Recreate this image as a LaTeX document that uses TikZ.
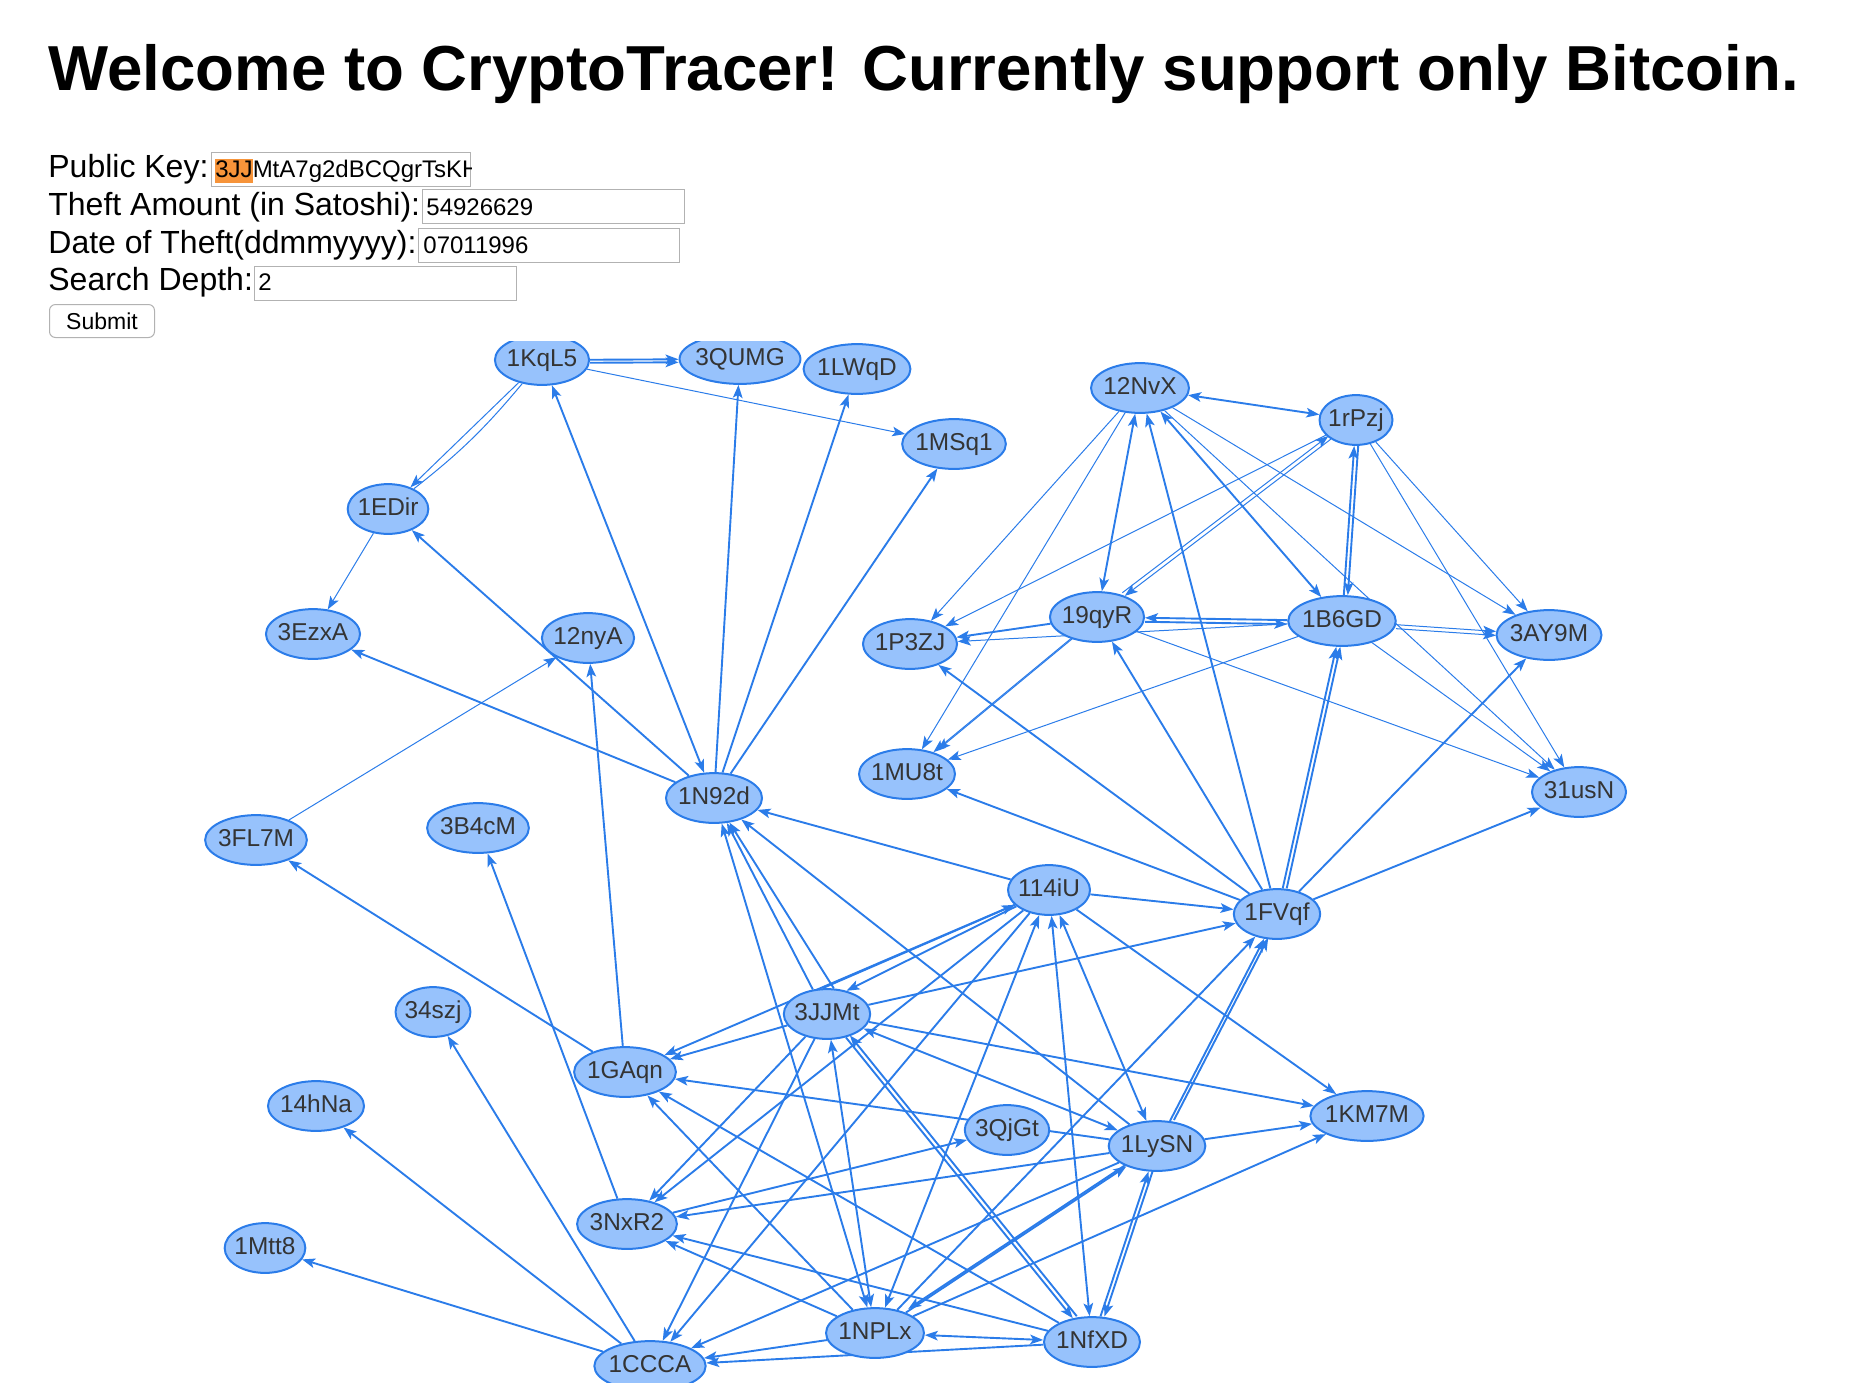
\documentclass[tikz,border=0pt]{standalone}
\usepackage{fontspec}
\setmainfont{Liberation Sans}
\usetikzlibrary{shapes, arrows.meta, positioning, backgrounds}
\definecolor{visblue}{RGB}{43,124,233}
\definecolor{visfill}{RGB}{151,194,252}
\definecolor{vistext}{RGB}{52,52,52}
\definecolor{boxgray}{RGB}{178,178,178}
\definecolor{selorange}{RGB}{247,148,58}
\newcommand{\selbox}[1]{{\setlength{\fboxsep}{0pt}\colorbox{selorange}{\rule[-3pt]{0pt}{12pt}#1}}}

\begin{document}
\begin{tikzpicture}[x=0.5pt,y=-0.5pt,
		>={Stealth[length=6.5pt,width=4.8pt,inset=1.5pt]},
		addr/.style={ellipse,draw=visblue,fill=visfill,line width=1pt,text=vistext,font=\fontsize{12.2}{14}\selectfont,inner xsep=-1pt,inner ysep=3.1pt,text height=8.8pt,text depth=2.6pt},
		tx/.style={draw=visblue,line width=0.95pt,->},
		txthin/.style={tx,line width=0.5pt},
		twin/.style={transform canvas={shift={(#1)}}},
		lbl/.style={anchor=base west,inner sep=0pt,font=\fontsize{16}{19}\selectfont},
		field/.style={draw=boxgray,line width=0.5pt,anchor=north west,inner sep=0pt,minimum height=17pt},
		val/.style={anchor=base west,inner sep=0pt,font=\fontsize{12}{14}\selectfont}
		]
		\useasboundingbox (0,0) rectangle (1872,1382);
		% form
		\node (title) [anchor=base west,inner sep=0pt,font=\fontsize{31.8}{38}\selectfont\bfseries] at (48,90) {Welcome to CryptoTracer! Currently support only Bitcoin.};
		\node (pklbl) [lbl] at (48,177) {Public Key:};
		\node (amtlbl) [lbl] at (48,215) {Theft Amount (in Satoshi):};
		\node (datelbl) [lbl] at (48,253) {Date of Theft(ddmmyyyy):};
		\node (depthlbl) [lbl] at (48,290) {Search Depth:};
		\node (pkbox) [field,minimum width=129.5pt] at (211,152) {};
		\node (amtbox) [field,minimum width=131pt] at (422,189) {};
		\node (datebox) [field,minimum width=130.5pt] at (418,228) {};
		\node (depthbox) [field,minimum width=131pt] at (254,266) {};
		\begin{scope}
			\clip (pkbox.north west) rectangle (pkbox.south east);
			\node (pkval) [val] at (215,177) {\selbox{3JJ}MtA7g2dBCQgrTsKH};
		\end{scope}
		\node (amtval) [val] at (426,215) {54926629};
		\node (dateval) [val] at (423,253) {07011996};
		\node (depthval) [val] at (258,290) {2};
		\node (submit) [draw=boxgray,line width=0.5pt,rounded corners=3pt,anchor=north west,minimum width=52.5pt,minimum height=16.5pt,inner sep=0pt,font=\fontsize{11.5}{13}\selectfont] at (49,304) {Submit};

		% graph
		\begin{scope}
			\clip (0,341) rectangle (1872,1382);
			\node (kql5) [addr] at (542,360) {1KqL5};
			\node (qumg) [addr] at (740,359) {3QUMG};
			\node (lwqd) [addr] at (857,369) {1LWqD};
			\node (msq1) [addr] at (954,444) {1MSq1};
			\node (edir) [addr] at (388,509) {1EDir};
			\node (ezxa) [addr] at (313,634) {3EzxA};
			\node (nya) [addr] at (588,638) {12nyA};
			\node (n92d) [addr] at (714,798) {1N92d};
			\node (fl7m) [addr] at (256,840) {3FL7M};
			\node (b4cm) [addr] at (478,828) {3B4cM};
			\node (nvx) [addr] at (1140,388) {12NvX};
			\node (rpzj) [addr] at (1356,420) {1rPzj};
			\node (qyr) [addr] at (1097,617) {19qyR};
			\node (b6gd) [addr] at (1342,621) {1B6GD};
			\node (p3zj) [addr] at (910,644) {1P3ZJ};
			\node (ay9m) [addr] at (1549,635) {3AY9M};
			\node (mu8t) [addr] at (907,774) {1MU8t};
			\node (usn) [addr] at (1579,792) {31usN};
			\node (iu) [addr] at (1049,890) {114iU};
			\node (fvqf) [addr] at (1277,914) {1FVqf};
			\node (jjmt) [addr] at (827,1014) {3JJMt};
			\node (szj) [addr] at (433,1012) {34szj};
			\node (gaqn) [addr] at (625,1072) {1GAqn};
			\node (hna) [addr] at (316,1106) {14hNa};
			\node (qjgt) [addr] at (1007,1130) {3QjGt};
			\node (lysn) [addr] at (1157,1146) {1LySN};
			\node (km7m) [addr] at (1367,1116) {1KM7M};
			\node (nxr2) [addr] at (627,1224) {3NxR2};
			\node (mtt8) [addr] at (265,1248) {1Mtt8};
			\node (nplx) [addr] at (875,1333) {1NPLx};
			\node (nfxd) [addr] at (1092,1342) {1NfXD};
			\node (ccca) [addr] at (650,1366) {1CCCA};
		\end{scope}

		\begin{scope}[on background layer]
			% upper left
			\draw [tx] (kql5) -- (qumg);
			\draw [tx,twin={0pt,-1.5pt}] (kql5) -- (qumg);
			\draw [txthin] (kql5) -- (msq1);
			\draw [txthin] (kql5) -- (edir);
			\draw [txthin,-] (edir) to[bend right=6] (kql5);
			\draw [txthin] (edir) -- (ezxa);
			\draw [tx,<->] (n92d) -- (kql5);
			\draw [tx] (n92d) -- (qumg);
			\draw [tx] (n92d) -- (lwqd);
			\draw [tx] (n92d) -- (msq1);
			\draw [tx] (n92d) -- (edir);
			\draw [tx] (n92d) -- (ezxa);
			\draw [txthin] (fl7m) -- (nya);
			\draw [tx] (gaqn) -- (nya);
			\draw [tx] (gaqn) -- (fl7m);
			\draw [tx] (nxr2) -- (b4cm);
			\draw [tx] (ccca) -- (szj);
			\draw [tx] (ccca) -- (hna);
			\draw [tx] (ccca) -- (mtt8);
			% upper right
			\draw [tx,<->] (nvx) -- (rpzj);
			\draw [txthin] (nvx) -- (p3zj);
			\draw [txthin] (nvx) -- (mu8t);
			\draw [tx,<->] (nvx) -- (qyr);
			\draw [tx,<->] (nvx) -- (b6gd);
			\draw [txthin] (nvx) -- (ay9m);
			\draw [txthin] (nvx) -- (usn);
			\draw [txthin] (rpzj) -- (p3zj);
			\draw [txthin] (rpzj) -- (qyr);
			\draw [txthin,twin={-1.2pt,1.6pt}] (qyr) -- (rpzj);
			\draw [tx] (b6gd) -- (rpzj);
			\draw [tx,twin={2pt,0pt}] (rpzj) -- (b6gd);
			\draw [txthin] (rpzj) -- (ay9m);
			\draw [txthin] (rpzj) -- (usn);
			\draw [tx] (b6gd) -- (qyr);
			\draw [tx,twin={0pt,-2pt}] (qyr) -- (b6gd);
			\draw [tx] (qyr) -- (p3zj);
			\draw [txthin] (b6gd) -- (p3zj);
			\draw [txthin] (qyr) -- (mu8t);
			\draw [txthin,twin={2pt,1pt}] (qyr) -- (mu8t);
			\draw [txthin] (b6gd) -- (mu8t);
			\draw [txthin] (b6gd) -- (ay9m);
			\draw [txthin,twin={0pt,-2pt}] (b6gd) -- (ay9m);
			\draw [txthin] (b6gd) -- (usn);
			\draw [txthin] (qyr) -- (usn);
			\draw [tx] (fvqf) -- (nvx);
			\draw [tx] (fvqf) -- (b6gd);
			\draw [tx,twin={2pt,0pt}] (fvqf) -- (b6gd);
			\draw [tx] (fvqf) -- (qyr);
			\draw [tx] (fvqf) -- (p3zj);
			\draw [tx] (fvqf) -- (mu8t);
			\draw [tx] (fvqf) -- (ay9m);
			\draw [tx] (fvqf) -- (usn);
			\draw [tx] (iu) -- (fvqf);
			\draw [tx] (iu) -- (n92d);
			% lower part
			\draw [tx] (jjmt.120) -- (n92d);
			\draw [tx] (jjmt.75) -- (n92d);
			\draw [tx] (iu) -- (jjmt.50);
			\draw [tx] (jjmt.100) -- (iu);
			\draw [tx] (jjmt) -- (fvqf);
			\draw [tx] (jjmt) -- (km7m);
			\draw [tx,<->] (jjmt) -- (lysn);
			\draw [tx] (jjmt) -- (gaqn);
			\draw [tx] (jjmt) -- (nxr2);
			\draw [tx] (jjmt) -- (ccca);
			\draw [tx] (iu) -- (gaqn);
			\draw [tx] (iu) -- (nxr2);
			\draw [tx] (iu) -- (ccca);
			\draw [tx,<->] (iu) -- (nplx);
			\draw [tx,<->] (iu) -- (nfxd);
			\draw [tx,<->] (iu) -- (lysn);
			\draw [tx] (iu) -- (km7m);
			\draw [tx] (nxr2) -- (qjgt);
			\draw [tx] (lysn) -- (gaqn);
			\draw [tx] (nplx) -- (gaqn);
			\draw [tx] (nfxd) -- (gaqn);
			\draw [tx] (lysn) -- (nxr2);
			\draw [tx] (nplx) -- (nxr2);
			\draw [tx] (nfxd) -- (nxr2);
			\draw [tx] (lysn) -- (ccca);
			\draw [tx] (nplx) -- (ccca);
			\draw [tx] (nfxd) -- (ccca);
			\draw [tx,<->] (nplx) -- (nfxd);
			\draw [tx,<->] (jjmt) -- (nplx);
			\draw [tx] (jjmt) -- (nfxd);
			\draw [tx,twin={2pt,1pt}] (nfxd) -- (jjmt);
			\draw [tx,<->] (n92d) -- (nplx);
			\draw [tx] (nplx) -- (lysn);
			\draw [tx,twin={1.2pt,1.8pt}] (lysn) -- (nplx);
			\draw [tx] (nplx) -- (fvqf);
			\draw [tx] (nplx) -- (km7m);
			\draw [tx] (nfxd) -- (lysn);
			\draw [tx,twin={2pt,0pt}] (lysn) -- (nfxd);
			\draw [tx] (lysn) -- (fvqf);
			\draw [tx,twin={2pt,0.5pt}] (lysn) -- (fvqf);
			\draw [tx] (lysn) -- (km7m);
			\draw [tx] (lysn) -- (n92d);
		\end{scope}
	\end{tikzpicture}
\end{document}
